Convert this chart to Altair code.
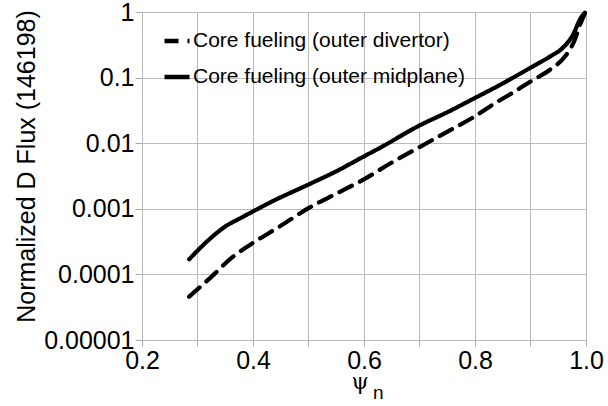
import altair as alt
import pandas as pd

# Normalized deuterium flux profiles vs normalized poloidal flux (shot 146198)
psi_divertor = [0.285, 0.322, 0.364, 0.40, 0.448, 0.50, 0.552, 0.598, 0.647, 0.70,
                0.749, 0.80, 0.836, 0.87, 0.90, 0.935, 0.962, 0.98, 0.989, 0.998]
log_flux_divertor = [-4.34, -4.06, -3.73, -3.52, -3.27, -2.99, -2.76, -2.56, -2.31, -2.06,
                     -1.83, -1.59, -1.39, -1.22, -1.06, -0.88, -0.68, -0.42, -0.20, -0.02]

psi_midplane = [0.285, 0.322, 0.35, 0.378, 0.40, 0.434, 0.50, 0.552, 0.598, 0.629,
                0.70, 0.752, 0.80, 0.841, 0.90, 0.937, 0.955, 0.977, 0.99, 0.998]
log_flux_midplane = [-3.77, -3.46, -3.27, -3.14, -3.04, -2.89, -2.63, -2.42, -2.21, -2.07,
                     -1.73, -1.52, -1.31, -1.13, -0.85, -0.67, -0.57, -0.34, -0.10, -0.01]

series_names = ["Core fueling (outer divertor)", "Core fueling (outer midplane)"]
y_ticks = [1e-5, 1e-4, 1e-3, 1e-2, 1e-1, 1]
x_ticks = [0.2, 0.3, 0.4, 0.5, 0.6, 0.7, 0.8, 0.9, 1.0]

rows = []
for p, lf in zip(psi_divertor, log_flux_divertor):
    rows.append({"psi": p, "flux": 10 ** lf, "case": series_names[0]})
for p, lf in zip(psi_midplane, log_flux_midplane):
    rows.append({"psi": p, "flux": 10 ** lf, "case": series_names[1]})
df = pd.DataFrame(rows)

FONT = "Liberation Sans"

lines = alt.Chart(df).mark_line(strokeWidth=4.2, strokeCap="round", strokeJoin="round", color="black", interpolate="monotone").encode(
    x=alt.X("psi:Q", scale=alt.Scale(domain=[0.2, 1.0], nice=False),
            axis=alt.Axis(values=x_ticks, title=None,
                          labelExpr="round(datum.value*10)%2==0 ? format(datum.value,'.1f') : ''",
                          labelFontSize=25, labelPadding=2, labelColor="black",
                          tickColor="#aaa", tickSize=6, gridColor="#bbb", gridWidth=1,
                          domain=False, labelFlush=False)),
    y=alt.Y("flux:Q", scale=alt.Scale(type="log", domain=[1e-5, 1], nice=False),
            axis=alt.Axis(values=y_ticks, format=".5~f", title="Normalized D Flux (146198)",
                          titleFontSize=25, titleFontWeight="normal", titleColor="black",
                          titleX=-116, titleY=154, titleAngle=-90, titleAlign="center",
                          titleBaseline="middle",
                          labelFontSize=25, labelPadding=1, labelColor="black",
                          tickColor="#aaa", tickSize=7, gridColor="#bbb", gridWidth=1,
                          domain=False, labelFlush=False)),
    strokeDash=alt.StrokeDash("case:N", scale=alt.Scale(domain=series_names, range=[[14, 9], [1, 0]]),
                              legend=alt.Legend(title=None, orient="none", legendX=20, legendY=14,
                                                symbolType="stroke", symbolSize=625,
                                                symbolStrokeWidth=4.5, symbolStrokeColor="black",
                                                labelFontSize=21, labelFont=FONT, labelColor="black",
                                                labelOffset=1, rowPadding=11, labelLimit=400)),
    detail="case:N",
)

psi_label = alt.Chart(pd.DataFrame({"t": ["ψ"]})).mark_text(
    font="DejaVu Serif", fontSize=22, color="black", align="center", baseline="alphabetic"
).encode(x=alt.value(218), y=alt.value(377), text="t:N")

n_label = alt.Chart(pd.DataFrame({"t": ["n"]})).mark_text(
    font=FONT, fontSize=19, color="black", align="left", baseline="alphabetic"
).encode(x=alt.value(231), y=alt.value(387), text="t:N")

chart = alt.layer(lines, psi_label, n_label).properties(
    width=444, height=328,
    autosize=alt.AutoSizeParams(type="none"),
    padding={"left": 142, "top": 12, "right": 22, "bottom": 66},
).configure_view(stroke="#1a1a1a", strokeWidth=2.5).configure(
    font=FONT, background="white"
)

chart.save("out.html", embed_options={"renderer": "svg", "actions": False})
